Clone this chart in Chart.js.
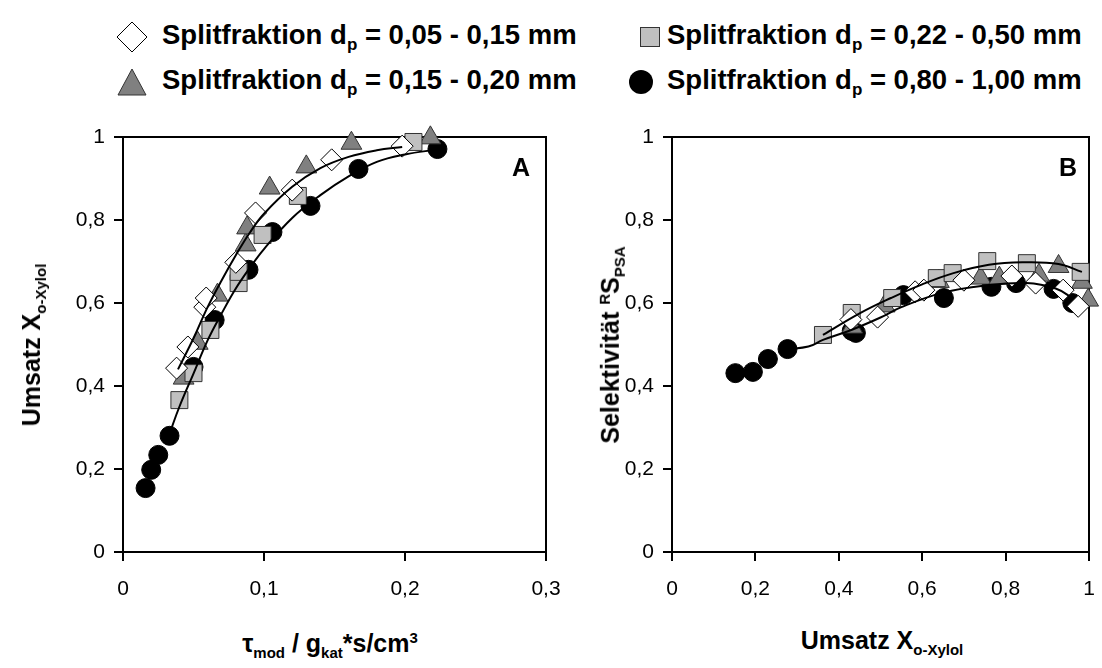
<!doctype html>
<html lang="de">
<head>
<meta charset="UTF-8">
<script src="https://cdn.jsdelivr.net/npm/chart.js@4.4.1/dist/chart.umd.min.js"></script>
<title>Umsatz und Selektivität</title>
<style>
    * { margin: 0; padding: 0; box-sizing: border-box; }
    body {
        width: 1102px;
        height: 668px;
        position: relative;
        background: #fff;
        font-family: 'Liberation Sans', Arial, sans-serif;
        overflow: hidden;
    }
    .panel { position: absolute; }
    .lbl {
        position: absolute;
        font-weight: bold;
        font-size: 25px;
        white-space: nowrap;
        color: #000;
        transform: translate(-50%, -50%);
    }
    .rot { transform: translate(-50%, -50%) rotate(-90deg); }
    .lbl sub, .lbl sup { font-size: 15px; }
    .leg {
        position: absolute;
        font-weight: bold;
        font-size: 27.5px;
        white-space: nowrap;
        transform: translateY(-50%);
    }
    .leg sub { font-size: 17px; }
    .mk { position: absolute; transform: translate(-50%, -50%); }
</style>
</head>
<body>

<!-- Legende -->
<svg class="mk" style="left:132px;top:37px" width="32" height="32"><polygon points="16,1 31,16 16,31 1,16" fill="#fff" stroke="#000" stroke-width="1"/></svg>
<div class="leg" style="left:162px;top:37px">Splitfraktion d<sub>p</sub> = 0,05 - 0,15 mm</div>
<svg class="mk" style="left:650px;top:37px" width="20" height="20"><rect x="0.5" y="0.5" width="19" height="19" fill="#c0c0c0" stroke="#333" stroke-width="1"/></svg>
<div class="leg" style="left:667px;top:37px">Splitfraktion d<sub>p</sub> = 0,22 - 0,50 mm</div>
<svg class="mk" style="left:132px;top:82px" width="30" height="28"><polygon points="15,1 29,27 1,27" fill="#808080" stroke="#333" stroke-width="1"/></svg>
<div class="leg" style="left:162px;top:82px">Splitfraktion d<sub>p</sub> = 0,15 - 0,20 mm</div>
<svg class="mk" style="left:641px;top:82px" width="26" height="26"><circle cx="13" cy="13" r="12" fill="#000"/></svg>
<div class="leg" style="left:667px;top:82px">Splitfraktion d<sub>p</sub> = 0,80 - 1,00 mm</div>

<div class="panel" style="left:40px;top:117px;width:520px;height:500px"><canvas id="chartA"></canvas></div>
<div class="panel" style="left:590px;top:117px;width:512px;height:500px"><canvas id="chartB"></canvas></div>

<!-- Achsentitel -->
<div class="lbl rot" style="left:33px;top:345px">Umsatz X<sub>o-Xylol</sub></div>
<div class="lbl" style="left:330px;top:645px">τ<sub>mod</sub> / g<sub>kat</sub>*s/cm<sup>3</sup></div>
<div class="lbl rot" style="left:612px;top:345px">Selektivität <sup>R</sup>S<sub>PSA</sub></div>
<div class="lbl" style="left:882px;top:642px">Umsatz X<sub>o-Xylol</sub></div>
<div class="lbl" style="left:521px;top:167px;font-size:25px">A</div>
<div class="lbl" style="left:1068px;top:167px;font-size:25px">B</div>

<script>
// Diagramm A: Umsatz über modifizierte Verweilzeit
const aDiamondX = [0.038, 0.046, 0.058, 0.059, 0.080, 0.094, 0.120, 0.148, 0.198];
const aDiamondY = [0.443, 0.494, 0.590, 0.612, 0.698, 0.817, 0.872, 0.945, 0.978];
const aSquareX = [0.040, 0.050, 0.062, 0.082, 0.082, 0.099, 0.124, 0.206];
const aSquareY = [0.366, 0.431, 0.535, 0.648, 0.675, 0.764, 0.858, 0.988];
const aTriX = [0.043, 0.053, 0.067, 0.087, 0.088, 0.104, 0.130, 0.162, 0.218];
const aTriY = [0.419, 0.503, 0.619, 0.740, 0.781, 0.877, 0.928, 0.985, 0.998];
const aCircX = [0.016, 0.020, 0.025, 0.033, 0.050, 0.065, 0.089, 0.106, 0.133, 0.167, 0.223];
const aCircY = [0.154, 0.198, 0.234, 0.280, 0.446, 0.559, 0.680, 0.771, 0.834, 0.923, 0.971];
// Ausgleichskurven A
const aFitUpX = [0.039, 0.05, 0.06, 0.07, 0.08, 0.09, 0.10, 0.12, 0.14, 0.16, 0.18, 0.198];
const aFitUpY = [0.44, 0.515, 0.59, 0.655, 0.715, 0.77, 0.815, 0.88, 0.925, 0.952, 0.968, 0.976];
const aFitLowX = [0.033, 0.04, 0.05, 0.06, 0.07, 0.08, 0.09, 0.10, 0.12, 0.14, 0.16, 0.18, 0.20, 0.223];
const aFitLowY = [0.285, 0.35, 0.43, 0.51, 0.575, 0.635, 0.685, 0.73, 0.805, 0.86, 0.905, 0.94, 0.958, 0.97];

// Diagramm B: Selektivität über Umsatz
const bDiamondX = [0.429, 0.493, 0.583, 0.604, 0.700, 0.815, 0.872, 0.938, 0.974];
const bDiamondY = [0.560, 0.566, 0.627, 0.631, 0.655, 0.665, 0.648, 0.631, 0.592];
const bSquareX = [0.362, 0.431, 0.528, 0.635, 0.673, 0.756, 0.851, 0.980];
const bSquareY = [0.523, 0.576, 0.612, 0.660, 0.672, 0.701, 0.696, 0.675];
const bTriX = [0.432, 0.510, 0.640, 0.740, 0.785, 0.880, 0.927, 0.983, 0.998];
const bTriY = [0.542, 0.593, 0.652, 0.660, 0.660, 0.667, 0.688, 0.650, 0.607];
const bCircX = [0.152, 0.194, 0.230, 0.277, 0.431, 0.441, 0.555, 0.652, 0.766, 0.825, 0.915, 0.960];
const bCircY = [0.431, 0.434, 0.465, 0.489, 0.533, 0.528, 0.619, 0.612, 0.639, 0.648, 0.634, 0.600];
// Ausgleichskurven B
const bFitUpX = [0.362, 0.45, 0.525, 0.60, 0.675, 0.76, 0.84, 0.927, 0.983];
const bFitUpY = [0.523, 0.575, 0.612, 0.645, 0.672, 0.692, 0.698, 0.694, 0.675];
const bFitLowX = [0.277, 0.327, 0.362, 0.43, 0.50, 0.55, 0.65, 0.75, 0.85, 0.92, 0.96];
const bFitLowY = [0.489, 0.495, 0.511, 0.535, 0.565, 0.59, 0.625, 0.642, 0.648, 0.635, 0.612];

const yTicks = [0, 0.2, 0.4, 0.6, 0.8, 1];

Chart.defaults.font.family = "'Liberation Sans', Arial, sans-serif";
Chart.defaults.color = '#000';

const pts = (xs, ys) => xs.map((x, i) => ({x: x, y: ys[i]}));
const fmt = (v) => String(parseFloat(Number(v).toFixed(2))).replace('.', ',');

// Rahmen um die Zeichenfläche
const boxPlugin = {
    id: 'box',
    beforeDatasetsDraw(chart) {
        const {ctx, chartArea: a} = chart;
        ctx.save();
        ctx.strokeStyle = '#000';
        ctx.lineWidth = 2;
        ctx.strokeRect(a.left, a.top, a.right - a.left, a.bottom - a.top);
        ctx.restore();
    }
};

function makeDatasets(d) {
    const line = (data) => ({
        type: 'line', data: data, borderColor: '#000', borderWidth: 2,
        pointRadius: 0, tension: 0.4, fill: false, clip: false
    });
    const mark = (data, style, bg, border, r) => ({
        data: data, pointStyle: style, pointRadius: r, backgroundColor: bg,
        borderColor: border, borderWidth: 1, showLine: false, clip: false
    });
    return [
        line(d.fitUp),
        line(d.fitLow),
        mark(d.diamond, 'rectRot', '#ffffff', '#000', 11),
        mark(d.square, 'rect', '#c0c0c0', '#333', 12),
        mark(d.tri, 'triangle', '#808080', '#333', 12),
        mark(d.circ, 'circle', '#000000', '#000', 9.5),
    ];
}

function makeOptions(xMax, xStep, yWidth, padRight) {
    const grid = {drawOnChartArea: false, drawTicks: true, tickLength: 9, color: '#000', lineWidth: 2};
    return {
        responsive: true,
        maintainAspectRatio: false,
        animation: false,
        events: [],
        layout: {padding: {top: 20, right: padRight, left: 0, bottom: 0}},
        plugins: {legend: {display: false}, tooltip: {enabled: false}},
        scales: {
            x: {
                type: 'linear', min: 0, max: xMax,
                border: {display: false},
                grid: grid,
                ticks: {stepSize: xStep, font: {size: 21}, padding: 16, callback: fmt, maxRotation: 0},
                afterFit: (s) => { s.height = 65; s.paddingLeft = 0; s.paddingRight = 0; }
            },
            y: {
                type: 'linear', min: 0, max: 1,
                border: {display: false},
                grid: grid,
                afterBuildTicks: (s) => { s.ticks = yTicks.map((v) => ({value: v})); },
                ticks: {font: {size: 21}, padding: 9, callback: fmt},
                afterFit: (s) => { s.width = yWidth; s.paddingTop = 0; s.paddingBottom = 0; }
            }
        }
    };
}

new Chart(document.getElementById('chartA'), {
    type: 'scatter',
    data: {datasets: makeDatasets({
        fitUp: pts(aFitUpX, aFitUpY), fitLow: pts(aFitLowX, aFitLowY),
        diamond: pts(aDiamondX, aDiamondY), square: pts(aSquareX, aSquareY),
        tri: pts(aTriX, aTriY), circ: pts(aCircX, aCircY)
    })},
    options: makeOptions(0.3, 0.1, 83, 14),
    plugins: [boxPlugin]
});

new Chart(document.getElementById('chartB'), {
    type: 'scatter',
    data: {datasets: makeDatasets({
        fitUp: pts(bFitUpX, bFitUpY), fitLow: pts(bFitLowX, bFitLowY),
        diamond: pts(bDiamondX, bDiamondY), square: pts(bSquareX, bSquareY),
        tri: pts(bTriX, bTriY), circ: pts(bCircX, bCircY)
    })},
    options: makeOptions(1, 0.2, 82, 9),
    plugins: [boxPlugin]
});
</script>
</body>
</html>
